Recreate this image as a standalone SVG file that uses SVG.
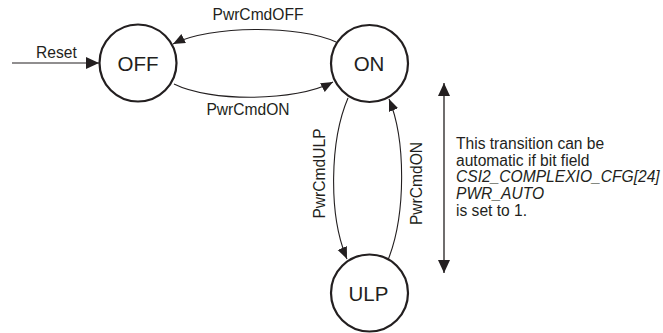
<svg xmlns="http://www.w3.org/2000/svg" width="663" height="333" viewBox="0 0 663 333">
<style>
  .state { fill: #ffffff; stroke: #231f20; stroke-width: 2.2; }
  .slabel { font-family: "Liberation Sans", Arial, sans-serif; font-size: 20.5px; fill: #231f20; text-anchor: middle; }
  .lbl { font-family: "Liberation Sans", Arial, sans-serif; font-size: 15.6px; fill: #231f20; }
  .mid { text-anchor: middle; }
  .it { font-style: italic; }
  .edge { fill: none; stroke: #231f20; stroke-width: 1.1; }
</style>
<defs>
  <marker id="arrow" markerUnits="userSpaceOnUse" markerWidth="13" markerHeight="11" refX="12" refY="5" orient="auto">
    <path d="M0,0 L12,5 L0,10 z" fill="#231f20"/>
  </marker>
  <marker id="arrowBig" markerUnits="userSpaceOnUse" markerWidth="14" markerHeight="13" refX="13" refY="6" orient="auto-start-reverse">
    <path d="M0,0 L13,6 L0,12 z" fill="#231f20"/>
  </marker>
</defs>

<g id="connectors">
  <g id="edge-reset">
    <line class="edge" x1="12" y1="63" x2="99" y2="63" marker-end="url(#arrowBig)"/>
    <text class="lbl" x="36" y="58">Reset</text>
  </g>
  <g id="edge-on-off">
    <path class="edge" d="M336,42 C300,25 210,25 173,44" marker-end="url(#arrow)"/>
    <text class="lbl mid" x="258" y="20">PwrCmdOFF</text>
  </g>
  <g id="edge-off-on">
    <path class="edge" d="M174,84 C210,102 295,102 333,82" marker-end="url(#arrow)"/>
    <text class="lbl mid" x="248" y="115">PwrCmdON</text>
  </g>
  <g id="edge-on-ulp">
    <path class="edge" d="M348,98 C330,140 328,215 347,259" marker-end="url(#arrow)"/>
    <text class="lbl mid" transform="translate(325,173.5) rotate(-90)">PwrCmdULP</text>
  </g>
  <g id="edge-ulp-on">
    <path class="edge" d="M388,260 C406,215 406,140 389,99" marker-end="url(#arrow)"/>
    <text class="lbl mid" transform="translate(421.5,183.5) rotate(-90)">PwrCmdON</text>
  </g>
  <g id="range-arrow">
    <line x1="444" y1="83" x2="444" y2="273" stroke="#231f20" stroke-width="1.3" marker-start="url(#arrowBig)" marker-end="url(#arrowBig)"/>
  </g>
</g>

<g id="node-off">
  <circle class="state" cx="138" cy="63" r="38.5"/>
  <text class="slabel" x="138" y="71">OFF</text>
</g>
<g id="node-on">
  <circle class="state" cx="369.5" cy="63.5" r="38.5"/>
  <text class="slabel" x="369" y="71">ON</text>
</g>
<g id="node-ulp">
  <circle class="state" cx="369.5" cy="293" r="38.5"/>
  <text class="slabel" x="368.5" y="301">ULP</text>
</g>

<g id="note">
  <text class="lbl" x="456" y="149">This transition can be</text>
  <text class="lbl" x="456" y="165.7">automatic if bit field</text>
  <text class="lbl it" x="456" y="182.3">CSI2_COMPLEXIO_CFG[24]</text>
  <text class="lbl it" x="456" y="199">PWR_AUTO</text>
  <text class="lbl" x="456" y="215.6">is set to 1.</text>
</g>
</svg>
